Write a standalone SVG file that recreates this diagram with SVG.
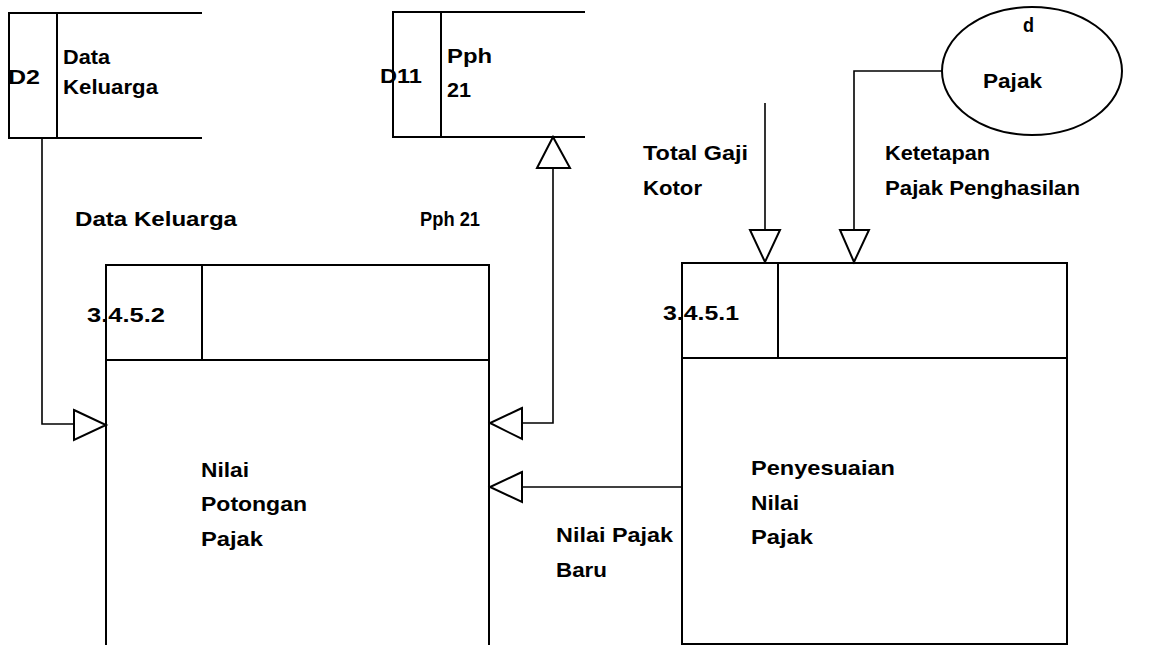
<svg xmlns="http://www.w3.org/2000/svg" width="1162" height="645" viewBox="0 0 1162 645">
<style>
text{font-family:"Liberation Sans",Arial,sans-serif;font-weight:bold;font-size:21px;fill:#000}
.ln{fill:none;stroke:#000;stroke-width:1.6}
.bx{fill:none;stroke:#000;stroke-width:2}
.ar{fill:#fff;stroke:#000;stroke-width:2;stroke-linejoin:miter}
</style>
<rect width="1162" height="645" fill="#fff"/>
<g id="store-d2">
<path class="bx" d="M202,13 H9 V138 H202 M57,13 V138"/>
<text x="8" y="84" textLength="32" lengthAdjust="spacingAndGlyphs">D2</text>
<text x="63" y="64" textLength="47" lengthAdjust="spacingAndGlyphs">Data</text>
<text x="63" y="94" textLength="95" lengthAdjust="spacingAndGlyphs">Keluarga</text>
</g>
<g id="store-d11">
<path class="bx" d="M585,12 H393 V137 H585 M441,12 V137"/>
<text x="380" y="83" textLength="42" lengthAdjust="spacingAndGlyphs">D11</text>
<text x="447" y="63" textLength="45" lengthAdjust="spacingAndGlyphs">Pph</text>
<text x="447" y="97" textLength="24" lengthAdjust="spacingAndGlyphs">21</text>
</g>
<g id="entity-pajak">
<ellipse class="bx" cx="1032" cy="71" rx="90" ry="64"/>
<text x="1023" y="32" textLength="11" lengthAdjust="spacingAndGlyphs">d</text>
<text x="983" y="88" textLength="59" lengthAdjust="spacingAndGlyphs">Pajak</text>
</g>
<g id="process-3452">
<path class="bx" d="M106,650 V265 H489 V650 M106,360 H489 M202,265 V360"/>
<text x="87" y="322" textLength="78" lengthAdjust="spacingAndGlyphs">3.4.5.2</text>
<path class="bx" d="M106,265 V360"/>
<text x="201" y="477" textLength="48" lengthAdjust="spacingAndGlyphs">Nilai</text>
<text x="201" y="511" textLength="106" lengthAdjust="spacingAndGlyphs">Potongan</text>
<text x="201" y="546" textLength="62" lengthAdjust="spacingAndGlyphs">Pajak</text>
</g>
<g id="process-3451">
<path class="bx" d="M682,263 H1067 V644 H682 Z M682,358 H1067 M778,263 V358"/>
<text x="663" y="320" textLength="76" lengthAdjust="spacingAndGlyphs">3.4.5.1</text>
<path class="bx" d="M682,263 V358"/>
<text x="751" y="475" textLength="144" lengthAdjust="spacingAndGlyphs">Penyesuaian</text>
<text x="751" y="510" textLength="48" lengthAdjust="spacingAndGlyphs">Nilai</text>
<text x="751" y="544" textLength="62" lengthAdjust="spacingAndGlyphs">Pajak</text>
</g>
<g id="connectors">
<path class="ln" d="M42,138 V424 H74"/>
<polygon class="ar" points="74,410 106,425 74,440"/>
<text x="75" y="226" textLength="162" lengthAdjust="spacingAndGlyphs">Data Keluarga</text>
<path class="ln" d="M522,423 H553 V168"/>
<polygon class="ar" points="537,168 553,137 570,168"/>
<polygon class="ar" points="522,408 490,423 522,439"/>
<text x="420" y="226" textLength="60" lengthAdjust="spacingAndGlyphs">Pph 21</text>
<path class="ln" d="M682,487 H522"/>
<polygon class="ar" points="522,472 490,487 522,502"/>
<text x="556" y="542" textLength="117" lengthAdjust="spacingAndGlyphs">Nilai Pajak</text>
<text x="556" y="577" textLength="51" lengthAdjust="spacingAndGlyphs">Baru</text>
<path class="ln" d="M765,103 V230"/>
<polygon class="ar" points="750,230 780,230 765,262"/>
<text x="643" y="160" textLength="105" lengthAdjust="spacingAndGlyphs">Total Gaji</text>
<text x="643" y="195" textLength="59" lengthAdjust="spacingAndGlyphs">Kotor</text>
<path class="ln" d="M942,71 H854 V230"/>
<polygon class="ar" points="840,230 869,230 854,262"/>
<text x="885" y="160" textLength="105" lengthAdjust="spacingAndGlyphs">Ketetapan</text>
<text x="885" y="195" textLength="195" lengthAdjust="spacingAndGlyphs">Pajak Penghasilan</text>
</g>
</svg>
